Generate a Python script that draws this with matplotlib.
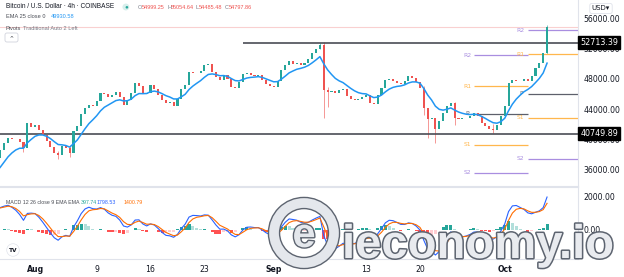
import numpy as np
import pandas as pd
import matplotlib
matplotlib.use("Agg")
import matplotlib.pyplot as plt
import matplotlib.patheffects as pe
from matplotlib.patches import Circle, FancyBboxPatch
from matplotlib.transforms import IdentityTransform

# 12h candles, closes; first candle = Jul 21 (day -11 from Aug 1)
closes = [31000, 31800, 32100, 32300, 32400, 33200, 33700, 34200, 34500, 35400,
          38800, 37200, 37600,
          38630, 39550, 40210, 40100, 40070, 39680, 38890, 42180, 41660, 41920,
          41260, 40600, 39810, 39020, 38230, 37970, 39160, 38900, 38230, 41130,
          41790, 43370, 44160, 44550, 44420, 45080, 46130, 46000, 45600, 45870,
          46260, 45600, 44550, 45210, 46130, 47450, 47050, 46000, 46130, 47180,
          46660, 45870, 45210, 44810, 44950, 44420, 45340, 46660, 47180, 48890,
          48700, 48760, 49030, 49810, 49950, 48890, 48240, 47840, 48500, 47970,
          46920, 46790, 47580, 48630, 48760, 48500, 48370, 48500, 47840, 47310,
          47050, 46900, 47710, 49160, 49810, 50340, 49950, 50080, 49810, 50080,
          50600, 51390, 51920, 52450, 46520, 46260, 46400, 46130, 46520, 46660,
          45740, 45340, 45210, 45300, 45600, 45870, 44810, 44680, 45870, 46790,
          47840, 47970, 47710, 47450, 47310, 47710, 48370, 48100, 47580, 46790,
          44160, 42710, 42840, 41390, 42450, 43500, 44420, 44810, 42840, 42700,
          42840, 42900, 43100, 43500, 43100, 42180, 41790, 41390, 41260, 41920,
          43100, 44420, 47450, 47840, 47750, 47710, 47970, 47710, 48370, 49420,
          50080, 51390, 54797.86]
first_open = 30500

# candles with long wicks: index, low, high
wick_idx = [19, 28, 31, 96, 97, 98, 123, 124, 126, 131, 141, 155]
wick_lo = [38300, 37500, 37700, 51900, 42840, 44300, 43300, 40200, 39550, 41900, 40800, 51300]
wick_hi = [39700, 38500, 39300, 52713, 52900, 46900, 47000, 43300, 42000, 44900, 42100, 55100]

# horizontal levels and weekly pivots
res_level, sup_level = 52713.39, 40749.89
pivot_starts = [57, 64]
pivot_ends = [64, 71]
pivot_names = ["R2", "R1", "P", "S1", "S2"]
pivot_levels = [[51130, 47050, 43370, 39290, 35610],
                [54420, 51260, 46000, 42840, 37450]]
pivot_colors = ["#a98ee0", "#ffb74d", "#5d606b", "#ffb74d", "#a98ee0"]

tick_days = [0, 8, 15, 22, 31, 43, 50, 61]
tick_labels = ["Aug", "9", "16", "23", "Sep", "13", "20", "Oct"]

c = pd.Series(closes, dtype=float)
o = c.shift(1).fillna(first_open)
days = np.arange(len(c)) * 0.5 - 11

ema = c.ewm(span=25 / 3, adjust=False).mean()
macd = c.ewm(span=4, adjust=False).mean() - c.ewm(span=26 / 3, adjust=False).mean()
signal = macd.ewm(span=3, adjust=False).mean()
hist = macd - signal
prev = hist.shift(1).fillna(0)
hcol = np.where(hist >= 0, np.where(hist > prev, "#26a69a", "#b2dfdb"),
                np.where(hist > prev, "#ffcdd2", "#ff5252"))

W, H = 624, 277
fig = plt.figure(figsize=(W / 100, H / 100), dpi=100)
ax = fig.add_axes([0, 1 - 186 / H, 578 / W, 186 / H])
axm = fig.add_axes([0, 18 / H, 578 / W, (259 - 187) / H], sharex=ax)

up = c >= o
col = np.where(up, "#26a69a", "#ef5350")
ax.bar(days, (c - o).abs().clip(lower=40), bottom=np.minimum(c, o), width=0.27,
       color=col, zorder=3)
for i, lo, hi in zip(wick_idx, wick_lo, wick_hi):
    ax.vlines(days[i], lo, hi, color=col[i], lw=0.7, alpha=0.6, zorder=2)
ax.plot(days, ema, color="#2196f3", lw=1.1, zorder=4)

ax.hlines(res_level, 27, 71, color="#4a4d55", lw=1.2, zorder=2)
ax.axhline(sup_level, color="#4a4d55", lw=1.2, zorder=2)
ax.axhline(closes[-1], color="#f9d0d0", lw=0.8, zorder=1)

for s, e, levels in zip(pivot_starts, pivot_ends, pivot_levels):
    for name, lv, pc in zip(pivot_names, levels, pivot_colors):
        ax.hlines(lv, s, e, color=pc, lw=0.9, zorder=2)
        ax.text(s - 0.9, lv, name, color=pc, fontsize=4.3, ha="center", va="center")

ax.set_xlim(-4.55, 70.52)
ax.set_ylim(33890, 58370)
ax.set_yticks([36000, 40000, 44000, 48000, 52000, 56000])
ax.set_yticklabels([f"{v:.2f}" for v in ax.get_yticks()])

for a in (ax, axm):
    a.yaxis.tick_right()
    a.tick_params(axis="y", length=0, pad=4, labelsize=5.6, labelcolor="#131722")
    for sp in ("top", "left"):
        a.spines[sp].set_visible(False)
    a.spines["right"].set_color("#e0e3eb")
    a.spines["bottom"].set_color("#e0e3eb")
    a.spines["bottom"].set_linewidth(0.8)
ax.tick_params(axis="x", length=0, labelbottom=False)

for lv in (res_level, sup_level):
    ax.text(1.004, lv, f"{lv:.2f}", transform=ax.get_yaxis_transform(),
            color="white", fontsize=5.8, va="center", ha="left", clip_on=False,
            bbox=dict(boxstyle="square,pad=0.25", fc="black", ec="black"))

# MACD pane
axm.bar(days, hist, width=0.4, color=hcol, zorder=2)
axm.plot(days, macd, color="#2962ff", lw=0.8, zorder=3)
axm.plot(days, signal, color="#ff6d00", lw=0.8, zorder=3)
axm.set_ylim(-1760, 2600)
axm.set_yticks([0, 2000])
axm.set_yticklabels(["0.00", "2000.00"])
axm.set_xticks(tick_days)
axm.set_xticklabels(tick_labels)
axm.tick_params(axis="x", length=0, pad=4, labelsize=5.6, labelcolor="#131722")
for lbl in axm.get_xticklabels():
    if lbl.get_text() in ("Aug", "Sep", "Oct"):
        lbl.set_fontweight("bold")
axm.spines["top"].set_visible(True)
axm.spines["top"].set_color("#e0e3eb")
axm.spines["top"].set_linewidth(0.8)


def ftext(x, y, s, size=4.1, **kw):
    fig.text(x / W, 1 - y / H, s, va="center", fontsize=size,
             family="Liberation Sans", **kw)


# legends
ftext(6, 7, "Bitcoin / U.S. Dollar · 4h · COINBASE", size=4.7, color="#131722")
ftext(124, 7, "●", size=4.5, color="#26a69a", bbox=dict(boxstyle="circle,pad=0.15",
                                                         fc="#d7efec", ec="none"))
for x, s, cc in [(138, "O", "#787b86"), (142, "54999.25", "#ef5350"),
                 (167, "H", "#787b86"), (171, "55054.64", "#ef5350"),
                 (196, "L", "#787b86"), (199, "54485.48", "#ef5350"),
                 (225, "C", "#787b86"), (229, "54797.86", "#ef5350")]:
    ftext(x, 7.5, s, size=4.0, color=cc)
ftext(6, 17, "EMA 25 close 0", color="#4a4d55")
ftext(51, 17, "49930.58", color="#2196f3")
ftext(6, 28, "Pivots", color="#4a4d55")
ftext(23, 28, "Traditional Auto 2 Left", color="#787b86")
fig.patches.append(FancyBboxPatch((5, H - 42), 13, 9, boxstyle="round,pad=0,rounding_size=2",
                                  fc="white", ec="#d1d4dc", lw=0.6, transform=IdentityTransform()))
fig.text(11.5 / W, 1 - 38 / H, "⌃", fontsize=5, color="#4a4d55", ha="center", va="center")
fig.text(601 / W, 1 - 8.5 / H, "USD▾", fontsize=5, color="#131722", ha="center", va="center",
         bbox=dict(boxstyle="round,pad=0.3", fc="white", ec="#e0e3eb", lw=0.6))
ftext(6, 203, "MACD 12 26 close 9 EMA EMA", size=3.8, color="#4a4d55")
ftext(81, 203, "397.74", size=3.8, color="#26a69a")
ftext(97, 203, "1798.53", size=3.8, color="#2962ff")
ftext(124, 203, "1400.79", size=3.8, color="#ff6d00")
fig.text(13 / W, 1 - 250 / H, "TV", fontsize=4.2, fontweight="bold", color="#131722",
         ha="center", va="center",
         bbox=dict(boxstyle="circle,pad=0.35", fc="white", ec="#e0e3eb", lw=0.5))

# watermark
ring = Circle((304, H - 233), 30, fill=False, ec="#e4e7ec", lw=7,
              transform=IdentityTransform(), zorder=10,
              path_effects=[pe.withStroke(linewidth=9, foreground="#5d6470")])
fig.patches.append(ring)
fig.text(304 / W, 1 - 236 / H, "e", fontsize=30, fontweight="bold", family="Liberation Sans",
         color="#e4e7ec", ha="center", va="center", zorder=10,
         path_effects=[pe.withStroke(linewidth=2, foreground="#5d6470")])
fig.text(342 / W, 1 - 258 / H, "ieconomy.io", fontsize=34, fontweight="bold",
         family="Liberation Sans", color="#e9ebef", ha="left", va="baseline", zorder=10,
         path_effects=[pe.withStroke(linewidth=2.2, foreground="#5d6470")])

fig.savefig("out.png", dpi=100)
